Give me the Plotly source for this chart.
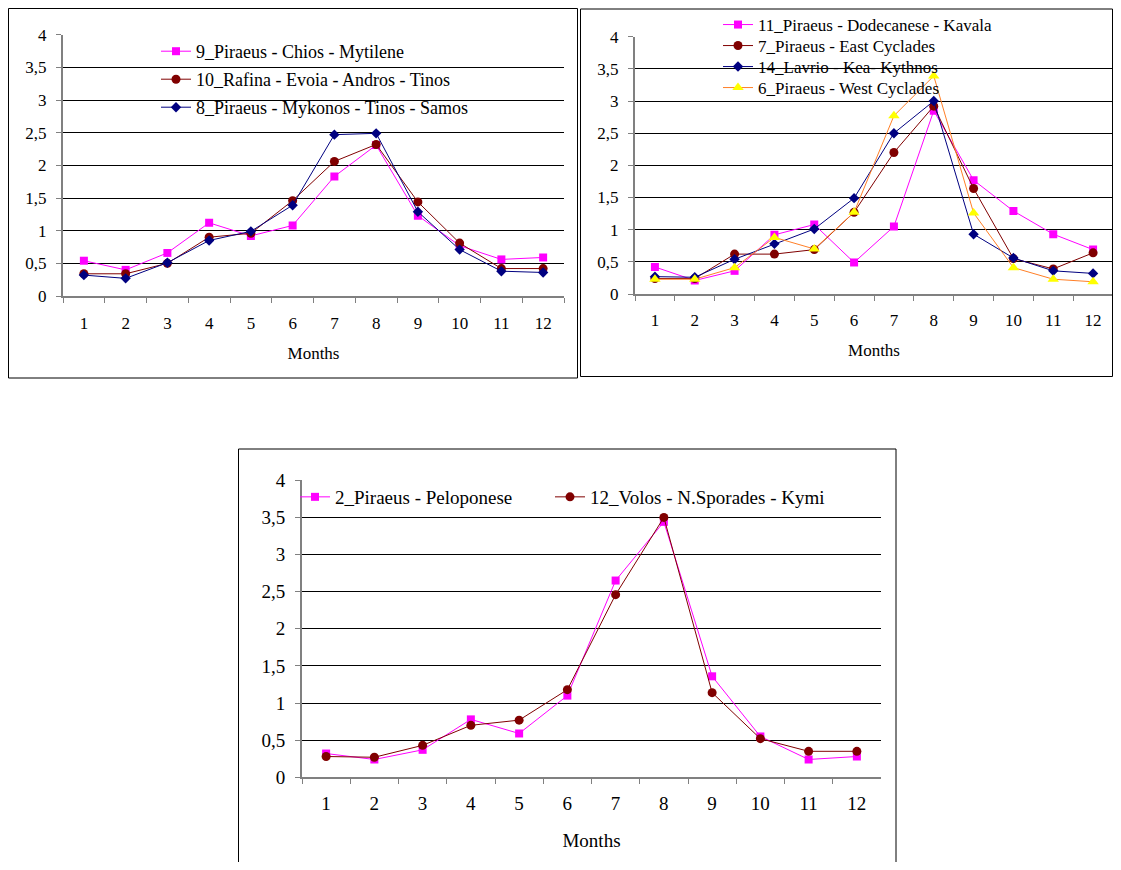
import plotly.graph_objects as go

months = [str(i) for i in range(1, 13)]
y_tickvals = [0, 0.5, 1, 1.5, 2, 2.5, 3, 3.5, 4]
y_ticktext = ["0", "0,5", "1", "1,5", "2", "2,5", "3", "3,5", "4"]

# Panel 1
p1_names = ["9_Piraeus - Chios - Mytilene", "10_Rafina - Evoia - Andros - Tinos", "8_Piraeus - Mykonos - Tinos - Samos"]
p1_chios = [0.54, 0.40, 0.66, 1.12, 0.92, 1.08, 1.83, 2.31, 1.23, 0.77, 0.56, 0.59]
p1_rafina = [0.34, 0.34, 0.50, 0.90, 0.96, 1.46, 2.06, 2.32, 1.44, 0.81, 0.42, 0.42]
p1_mykonos = [0.32, 0.27, 0.51, 0.85, 0.99, 1.39, 2.47, 2.49, 1.29, 0.71, 0.38, 0.36]

# Panel 2
p2_names = ["11_Piraeus - Dodecanese - Kavala", "7_Piraeus - East Cyclades", "14_Lavrio - Kea- Kythnos", "6_Piraeus - West Cyclades"]
p2_dodecanese = [0.42, 0.21, 0.36, 0.92, 1.08, 0.49, 1.05, 2.85, 1.77, 1.29, 0.93, 0.69]
p2_east = [0.24, 0.24, 0.62, 0.62, 0.69, 1.27, 2.20, 2.92, 1.64, 0.55, 0.39, 0.64]
p2_lavrio = [0.27, 0.26, 0.54, 0.78, 1.01, 1.49, 2.50, 3.00, 0.93, 0.56, 0.36, 0.32]
p2_west = [0.23, 0.23, 0.41, 0.88, 0.70, 1.27, 2.77, 3.39, 1.26, 0.41, 0.23, 0.19]

# Panel 3
p3_names = ["2_Piraeus - Peloponese", "12_Volos - N.Sporades - Kymi"]
p3_pelop = [0.32, 0.24, 0.37, 0.78, 0.59, 1.10, 2.65, 3.44, 1.36, 0.55, 0.24, 0.28]
p3_volos = [0.28, 0.27, 0.43, 0.70, 0.77, 1.18, 2.46, 3.50, 1.14, 0.52, 0.35, 0.35]

OFF = 8  # page body margin
W, H = 1121 - 2 * OFF, 870 - 2 * OFF
FONT = "Liberation Serif, Times New Roman, serif"


def px(x):
    return min(max((x - OFF) / W, 0.0), 1.0)


def py(y):
    return 1 - (y - OFF) / H


STY = {
    "mag": dict(line=dict(color="#FF00FF", width=1), marker=dict(symbol="square", size=8, color="#FF00FF")),
    "red": dict(line=dict(color="#800000", width=1), marker=dict(symbol="circle", size=9, color="#800000")),
    "navy": dict(line=dict(color="#000080", width=1), marker=dict(symbol="diamond", size=8, color="#000080")),
    "yel": dict(line=dict(color="#FF7F27", width=1), marker=dict(symbol="triangle-up", size=10, color="#FFFF00")),
}

fig = go.Figure()


def add(ys, name, sty, xa, ya, leg):
    s = STY[sty]
    fig.add_trace(go.Scatter(x=months, y=ys, name=name, mode="lines+markers",
                             line=s["line"], marker=s["marker"], xaxis=xa, yaxis=ya,
                             legend=leg))


add(p1_chios, p1_names[0], "mag", "x", "y", "legend")
add(p1_rafina, p1_names[1], "red", "x", "y", "legend2")
add(p1_mykonos, p1_names[2], "navy", "x", "y", "legend3")

add(p2_dodecanese, p2_names[0], "mag", "x2", "y2", "legend4")
add(p2_east, p2_names[1], "red", "x2", "y2", "legend5")
add(p2_lavrio, p2_names[2], "navy", "x2", "y2", "legend6")
add(p2_west, p2_names[3], "yel", "x2", "y2", "legend7")

add(p3_pelop, p3_names[0], "mag", "x3", "y3", "legend8")
add(p3_volos, p3_names[1], "red", "x3", "y3", "legend9")


def xax(dom, anchor, fs, standoff, tstand):
    return dict(domain=dom, anchor=anchor, type="category", range=[-0.5, 11.5], automargin=False,
                tickson="boundaries", ticks="outside", ticklen=5, tickcolor="#808080", tickwidth=1,
                showline=True, linecolor="#808080", linewidth=2, showgrid=False,
                tickfont=dict(family=FONT, size=fs, color="black"), ticklabelstandoff=tstand,
                title=dict(text="Months", font=dict(family=FONT, size=fs, color="black"), standoff=standoff))


def yax(dom, anchor, fs):
    return dict(domain=dom, anchor=anchor, range=[0, 4], tickmode="array", tickvals=y_tickvals,
                ticktext=y_ticktext, ticks="outside", ticklen=5, tickcolor="#808080", automargin=False,
                showline=True, linecolor="#808080", linewidth=2, showgrid=True, gridcolor="black",
                gridwidth=1, zeroline=False, ticklabelstandoff=6,
                tickfont=dict(family=FONT, size=fs, color="black"))


def leg(x, y, fs, **kw):
    d = dict(x=px(x), y=py(y), xanchor="left", yanchor="top", bgcolor="rgba(0,0,0,0)",
             font=dict(family=FONT, size=fs, color="black"), itemwidth=30)
    d.update(kw)
    return d


shapes = [
    dict(type="rect", xref="paper", yref="paper", x0=px(8.5), x1=px(577.5), y0=py(378), y1=py(8.5),
         line=dict(color="black", width=1)),
    dict(type="rect", xref="paper", yref="paper", x0=px(580.5), x1=px(1112.5), y0=py(376.5), y1=py(9),
         line=dict(color="black", width=1)),
    dict(type="rect", xref="paper", yref="paper", x0=px(238.5), x1=px(896), y0=py(885), y1=py(449),
         line=dict(color="black", width=1)),
]

fig.update_layout(
    template="none",
    width=W, height=H, autosize=False,
    margin=dict(l=0, r=0, t=0, b=0, autoexpand=False),
    paper_bgcolor="white", plot_bgcolor="white",
    font=dict(family=FONT, color="black"),
    showlegend=True,
    xaxis=xax([px(63), px(564)], "y", 17, 15, 11),
    yaxis=yax([py(296), py(34.7)], "x", 17),
    xaxis2=xax([px(635), px(1113)], "y2", 17, 15, 10),
    yaxis2=yax([py(294), py(36.7)], "x2", 17),
    xaxis3=xax([px(302), px(881)], "y3", 19, 21, 8),
    yaxis3=yax([py(777.3), py(480.3)], "x3", 19),
    legend=leg(156, 33, 18),
    legend2=leg(156, 61, 18),
    legend3=leg(156, 89, 18),
    legend4=leg(718, 7, 17),
    legend5=leg(718, 28, 17),
    legend6=leg(718, 49, 17),
    legend7=leg(718, 70, 17),
    legend8=leg(295, 478, 19),
    legend9=leg(550, 478, 19),
    shapes=shapes,
)

fig.write_html("out.html")
